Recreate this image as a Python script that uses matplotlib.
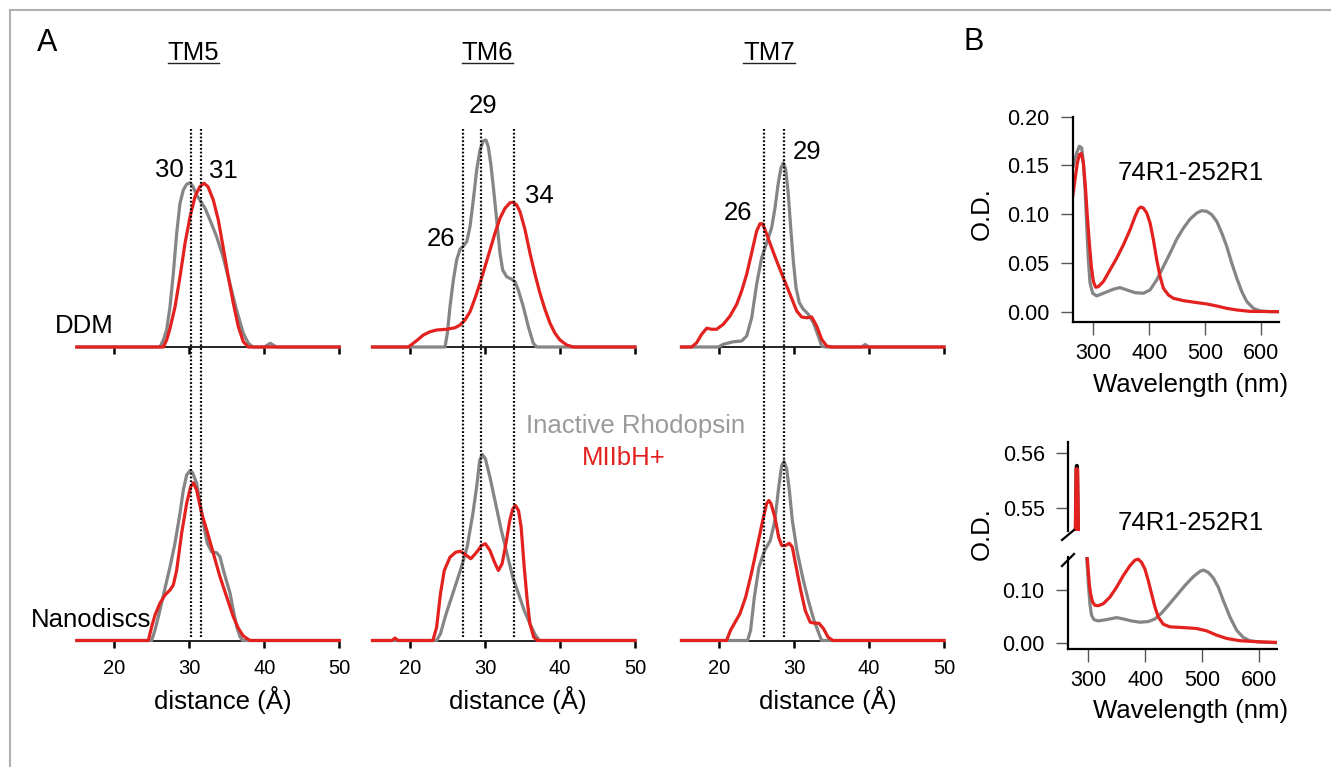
import matplotlib
matplotlib.use("Agg")
import matplotlib.pyplot as plt
from matplotlib.lines import Line2D
from matplotlib.transforms import blended_transform_factory

plt.rcParams['font.family'] = ['Liberation Sans', 'DejaVu Sans']

# ---------------- data: Panel A (distance distributions) ----------------
ticks_A = [20, 30, 40, 50]
titles_A = ["TM5", "TM6", "TM7"]

tm5_ddm_gray_x = [15, 26.09, 26.54, 26.98, 27.43, 27.87, 28.32, 28.76, 29.2, 29.65, 30.1, 30.5, 30.98, 31.4, 32.1,
                  32.76, 33.65, 34.5, 35.4, 36.3, 37.2, 37.87, 38.5, 40.0, 40.8, 41.6, 50]
tm5_ddm_gray_y = [0, 0, 0.028, 0.068, 0.161, 0.295, 0.455, 0.575, 0.628, 0.651, 0.657, 0.641, 0.608, 0.588, 0.555,
                  0.508, 0.441, 0.361, 0.255, 0.148, 0.055, 0.015, 0, 0, 0.015, 0, 0]
tm5_ddm_red_x = [15, 26.54, 26.98, 27.43, 28.1, 28.76, 29.43, 30.1, 30.76, 31.4, 31.96, 32.5, 33.2, 33.87, 34.5,
                 35.2, 35.87, 36.54, 37.2, 37.87, 50]
tm5_ddm_red_y = [0, 0, 0.028, 0.075, 0.161, 0.281, 0.415, 0.521, 0.601, 0.641, 0.655, 0.641, 0.588, 0.508, 0.401,
                 0.281, 0.175, 0.081, 0.021, 0, 0]

tm5_nano_gray_x = [15, 24.98, 25.43, 26.09, 26.76, 27.43, 28.09, 28.76, 29.2, 29.65, 30.09, 30.45, 30.98, 31.43,
                   31.96, 32.4, 32.98, 33.65, 34.09, 34.54, 34.98, 35.43, 35.87, 36.32, 36.76, 37.1, 50]
tm5_nano_gray_y = [0, 0, 0.042, 0.122, 0.209, 0.295, 0.389, 0.509, 0.602, 0.662, 0.679, 0.671, 0.629, 0.549,
                   0.455, 0.389, 0.355, 0.351, 0.335, 0.282, 0.235, 0.19, 0.12, 0.055, 0.015, 0, 0]
tm5_nano_red_x = [15, 24.54, 24.98, 25.43, 26.09, 26.76, 27.43, 27.87, 28.32, 28.98, 29.65, 30.18, 30.54, 30.98,
                  31.65, 32.32, 33.2, 34.09, 34.98, 35.87, 36.54, 37.2, 38.09, 50]
tm5_nano_red_y = [0, 0, 0.055, 0.102, 0.149, 0.182, 0.202, 0.222, 0.282, 0.429, 0.549, 0.615, 0.631, 0.602,
                  0.509, 0.442, 0.349, 0.255, 0.175, 0.095, 0.049, 0.018, 0, 0]

tm6_ddm_gray_x = [15, 24.67, 24.98, 25.33, 25.78, 26.22, 26.67, 27.11, 27.56, 28.0, 28.44, 28.89, 29.33, 29.78,
                  30.13, 30.44, 30.76, 31.11, 31.56, 32.0, 32.36, 32.89, 33.56, 34.0, 34.44, 35.11, 35.78, 36.44,
                  36.89, 50]
tm6_ddm_gray_y = [0, 0, 0.055, 0.161, 0.268, 0.348, 0.391, 0.404, 0.421, 0.481, 0.588, 0.708, 0.788, 0.825,
                  0.828, 0.801, 0.735, 0.641, 0.508, 0.375, 0.308, 0.281, 0.271, 0.261, 0.228, 0.161, 0.081, 0.015,
                  0, 0]
tm6_ddm_red_x = [15, 19.78, 20.44, 21.11, 21.78, 22.67, 23.56, 24.89, 26.0, 26.67, 27.33, 28.0, 28.67, 29.33,
                 30.0, 30.67, 31.33, 32.0, 32.67, 33.33, 33.78, 34.22, 34.67, 35.33, 36.0, 36.67, 37.33, 38.0,
                 38.67, 39.33, 40.0, 40.89, 41.78, 50]
tm6_ddm_red_y = [0, 0, 0.015, 0.031, 0.048, 0.061, 0.068, 0.071, 0.077, 0.088, 0.108, 0.141, 0.195, 0.255,
                 0.321, 0.388, 0.455, 0.515, 0.555, 0.577, 0.579, 0.568, 0.541, 0.47, 0.375, 0.29, 0.215, 0.15,
                 0.095, 0.055, 0.028, 0.008, 0, 0]

tm6_nano_gray_x = [15, 23.55, 24.06, 24.82, 25.84, 26.85, 27.61, 28.38, 28.88, 29.29, 29.64, 30.05, 30.66, 31.42,
                   32.18, 32.94, 33.7, 34.47, 35.23, 35.99, 36.75, 37.26, 50]
tm6_nano_gray_y = [0, 0, 0.027, 0.107, 0.2, 0.293, 0.373, 0.507, 0.613, 0.72, 0.744, 0.727, 0.653, 0.547,
                   0.44, 0.347, 0.253, 0.187, 0.12, 0.067, 0.02, 0, 0]
tm6_nano_red_x = [15, 17.6, 18.0, 18.4, 23.05, 23.55, 24.06, 24.57, 25.33, 26.09, 26.7, 27.36, 28.12, 28.88, 29.54,
                  30.05, 30.66, 31.27, 31.78, 32.28, 32.79, 33.3, 33.71, 34.06, 34.47, 34.82, 35.23, 35.63, 35.99,
                  36.5, 37.0, 50]
tm6_nano_red_y = [0, 0, 0.01, 0, 0, 0.053, 0.187, 0.28, 0.333, 0.353, 0.357, 0.344, 0.327, 0.353, 0.38,
                  0.387, 0.36, 0.313, 0.28, 0.307, 0.387, 0.48, 0.527, 0.54, 0.52, 0.453, 0.293, 0.16, 0.067,
                  0.013, 0, 0]

tm7_ddm_gray_x = [15, 19.91, 20.58, 21.91, 23.02, 23.69, 24.36, 25.02, 25.69, 26.36, 27.02, 27.47, 27.91, 28.27,
                  28.58, 28.89, 29.24, 29.56, 29.91, 30.27, 30.71, 31.24, 31.91, 32.58, 33.24, 33.69, 34.13,
                  39.0, 39.5, 40.0, 50]
tm7_ddm_gray_y = [0, 0, 0.011, 0.021, 0.024, 0.044, 0.117, 0.251, 0.357, 0.417, 0.477, 0.557, 0.657, 0.717,
                  0.737, 0.711, 0.611, 0.477, 0.344, 0.237, 0.177, 0.151, 0.131, 0.097, 0.044, 0.004, 0,
                  0, 0.01, 0, 0]
tm7_ddm_red_x = [15, 16.36, 17.02, 17.69, 18.36, 19.02, 19.69, 20.58, 21.47, 22.36, 23.02, 23.69, 24.36, 25.02,
                 25.47, 25.82, 26.36, 27.02, 27.69, 28.58, 29.47, 30.36, 31.02, 31.69, 32.36, 33.02, 33.69,
                 34.36, 35.02, 50]
tm7_ddm_red_y = [0, 0, 0.017, 0.051, 0.075, 0.071, 0.071, 0.091, 0.124, 0.171, 0.224, 0.291, 0.377, 0.464,
                 0.493, 0.493, 0.451, 0.397, 0.344, 0.277, 0.211, 0.144, 0.120, 0.117, 0.120, 0.084, 0.031,
                 0.004, 0, 0]

tm7_nano_gray_x = [15, 23.8, 24.21, 24.71, 25.32, 26.08, 26.84, 27.45, 27.96, 28.36, 28.67, 29.02, 29.38, 29.78,
                   30.39, 31.15, 31.91, 32.67, 33.33, 33.68, 50]
tm7_nano_gray_y = [0, 0, 0.04, 0.173, 0.293, 0.36, 0.4, 0.48, 0.613, 0.7, 0.717, 0.687, 0.6, 0.48,
                   0.36, 0.253, 0.16, 0.08, 0.027, 0, 0]
tm7_nano_red_x = [15, 21.01, 21.52, 22.03, 22.79, 23.55, 24.31, 25.07, 25.83, 26.34, 26.64, 26.94, 27.45, 27.96,
                  28.36, 28.87, 29.38, 29.78, 30.29, 30.9, 31.5, 32.16, 32.82, 33.33, 33.94, 34.55, 35.2, 50]
tm7_nano_red_y = [0, 0, 0.04, 0.067, 0.107, 0.173, 0.267, 0.373, 0.48, 0.547, 0.56, 0.547, 0.493, 0.413,
                  0.38, 0.38, 0.389, 0.373, 0.293, 0.2, 0.12, 0.073, 0.069, 0.069, 0.047, 0.013, 0, 0]

# dotted reference lines (Å) per TM column
tm5_refs = [30.2, 31.6]
tm6_refs = [27.0, 29.4, 33.8]
tm7_refs = [26.0, 28.6]

# peak labels
tm5_peak_labels = ["30", "31"]
tm6_peak_labels = ["29", "26", "34"]
tm7_peak_labels = ["29", "26"]

# ---------------- data: Panel B (absorbance spectra) ----------------
b_top_gray_nm = [264.2, 270.1, 274.9, 279.1, 282.1, 285.1, 288.1, 291.0, 294.0, 298.8, 306.0, 317.9, 335.8, 347.8,
                 359.7, 374.7, 389.6, 401.6, 413.5, 425.4, 437.4, 449.3, 461.3, 473.2, 485.2, 494.1, 503.1, 512.1,
                 521.0, 530.0, 538.9, 547.9, 556.9, 565.8, 574.8, 586.7, 598.7, 616.6, 631.5]
b_top_gray_od = [0.1495, 0.1629, 0.1697, 0.1680, 0.1526, 0.1255, 0.0878, 0.0535, 0.0295, 0.0189, 0.0161, 0.0189,
                 0.023, 0.0247, 0.0223, 0.0195, 0.0189, 0.0223, 0.0326, 0.0463, 0.06, 0.0744, 0.0857, 0.095, 0.1012,
                 0.1036, 0.1029, 0.0995, 0.0926, 0.0806, 0.0669, 0.0497, 0.0343, 0.0206, 0.0103, 0.0034, 0.0007,
                 0, 0]
b_top_red_nm = [263.0, 267.1, 271.3, 274.9, 278.5, 282.1, 285.7, 289.2, 292.8, 296.4, 300.0, 304.2, 309.0, 317.9,
                329.9, 341.8, 353.8, 365.7, 374.7, 380.6, 384.8, 389.6, 395.6, 401.6, 407.5, 413.5, 419.5, 425.4,
                434.4, 443.4, 461.3, 485.2, 503.1, 521.0, 538.9, 556.9, 580.8, 631.5]
b_top_red_od = [0.1183, 0.1355, 0.1523, 0.1612, 0.1622, 0.1526, 0.1286, 0.0978, 0.0703, 0.0463, 0.0309, 0.0250,
                0.0257, 0.0309, 0.0429, 0.0549, 0.0686, 0.0840, 0.0977, 0.1053, 0.1073, 0.1063, 0.1012, 0.0909,
                0.0738, 0.0532, 0.0360, 0.0240, 0.0171, 0.0137, 0.0113, 0.0093, 0.0079, 0.0058, 0.0034, 0.0017,
                0.0003, 0]

b_bot_gray_nm = [297.1, 298.8, 300.6, 302.9, 305.8, 309.9, 317.5, 332.2, 349.7, 361.4, 376.0, 390.6, 405.3, 417.0,
                 428.7, 440.4, 455.0, 469.6, 484.2, 495.9, 501.8, 510.5, 519.3, 528.1, 536.8, 548.5, 560.2, 571.9,
                 583.6, 601.2, 630.4]
b_bot_gray_od = [0.1595, 0.135, 0.1043, 0.0736, 0.0521, 0.0442, 0.0417, 0.0442, 0.0479, 0.0454, 0.0417, 0.0393,
                 0.0405, 0.0454, 0.0564, 0.0706, 0.0890, 0.1074, 0.1239, 0.1337, 0.1362, 0.1319, 0.1215, 0.1043,
                 0.0798, 0.0491, 0.0245, 0.0110, 0.0049, 0.0025, 0.0012]
b_bot_red_nm = [298.2, 300.0, 301.8, 304.1, 307.6, 311.7, 317.5, 326.3, 338.0, 349.7, 361.4, 373.1, 381.9, 387.7,
                393.6, 399.4, 405.3, 411.1, 417.0, 422.8, 431.6, 443.3, 466.7, 490.1, 507.6, 525.1, 542.7, 566.1,
                595.3, 630.4]
b_bot_red_od = [0.1595, 0.135, 0.1104, 0.092, 0.0767, 0.0706, 0.07, 0.0736, 0.0859, 0.1043, 0.1258, 0.1442,
                0.1546, 0.1564, 0.1503, 0.1380, 0.1166, 0.0920, 0.0675, 0.0491, 0.0356, 0.0307, 0.0294, 0.0276,
                0.0233, 0.0153, 0.0092, 0.0049, 0.0031, 0.0018]

b_spike_black_nm = [277, 279, 280, 281, 283]
b_spike_black_od = [0.54, 0.5577, 0.5578, 0.5577, 0.54]
b_spike_red_nm = [276.5, 278.7, 280, 281.3, 283.5]
b_spike_red_od = [0.54, 0.5571, 0.5572, 0.5571, 0.54]

b_top_yticks = [0.00, 0.05, 0.10, 0.15, 0.20]
b_bot_yticks_low = [0.00, 0.10]
b_bot_yticks_high = [0.55, 0.56]
b_xticks = [300, 400, 500, 600]

# ---------------- figure ----------------
W, H = 1331, 767
fig = plt.figure(figsize=(W / 100, H / 100), dpi=100)
fig.patch.set_facecolor('white')

GRAY = '#858585'
RED = '#e3211f'
LW = 2.3


def fx(x):
    return x / W


def fy(y):
    return 1 - y / H


def add_ax(left, top, right, bottom):
    return fig.add_axes([fx(left), fy(bottom), (right - left) / W, (bottom - top) / H])


def ftext(x, y, s, size=18.5, ha='center', va='baseline', **kw):
    fig.text(fx(x), fy(y), s, fontsize=size, ha=ha, va=va, **kw)


# frame
fig.add_artist(Line2D([fx(10), fx(10)], [fy(10), 0], color='#b0b0b0', lw=1.5))
fig.add_artist(Line2D([fx(10), 1], [fy(10), fy(10)], color='#b0b0b0', lw=1.5))

# Panel A axes geometry (pixels)
col_left = [76.8, 372.5, 681.5]
col_w = 262.5
row_base = [347.0, 640.5]
row_h = 250.0

curves = [
    [(tm5_ddm_gray_x, tm5_ddm_gray_y, tm5_ddm_red_x, tm5_ddm_red_y),
     (tm5_nano_gray_x, tm5_nano_gray_y, tm5_nano_red_x, tm5_nano_red_y)],
    [(tm6_ddm_gray_x, tm6_ddm_gray_y, tm6_ddm_red_x, tm6_ddm_red_y),
     (tm6_nano_gray_x, tm6_nano_gray_y, tm6_nano_red_x, tm6_nano_red_y)],
    [(tm7_ddm_gray_x, tm7_ddm_gray_y, tm7_ddm_red_x, tm7_ddm_red_y),
     (tm7_nano_gray_x, tm7_nano_gray_y, tm7_nano_red_x, tm7_nano_red_y)],
]
refs = [tm5_refs, tm6_refs, tm7_refs]

top_axes = []
for c in range(3):
    for r in range(2):
        ax = add_ax(col_left[c], row_base[r] - row_h, col_left[c] + col_w, row_base[r])
        gx, gy, rx, ry = curves[c][r]
        ax.plot(gx, gy, color=GRAY, lw=LW, solid_joinstyle='round', zorder=3, clip_on=False)
        ax.plot(rx, ry, color=RED, lw=LW, solid_joinstyle='round', zorder=4, clip_on=False)
        ax.set_xlim(15, 50)
        ax.set_ylim(0, 1)
        for s in ['left', 'right', 'top']:
            ax.spines[s].set_visible(False)
        ax.spines['bottom'].set_color('black')
        ax.spines['bottom'].set_linewidth(1.2)
        ax.spines['bottom'].set_zorder(2)
        ax.set_yticks([])
        ax.set_xticks(ticks_A)
        ax.tick_params(axis='x', direction='out', length=5, width=1.8, color='black',
                       labelsize=14.5, pad=8)
        if r == 0:
            ax.tick_params(labelbottom=False)
            top_axes.append(ax)
        ax.patch.set_alpha(0)

# dotted reference lines spanning both rows
for c in range(3):
    ax = top_axes[c]
    tr = blended_transform_factory(ax.transData, fig.transFigure)
    for xv in refs[c]:
        fig.add_artist(Line2D([xv, xv], [fy(129), fy(639)], transform=tr, color='black',
                              lw=1.6, dashes=(0.8, 0.9), zorder=5))

# titles with underline
title_pos = [(193.5, 167.7, 219.3), (487.5, 461.7, 513.3), (769.0, 743.3, 795.0)]
for t, (cx, ul, ur) in zip(titles_A, title_pos):
    ftext(cx, 60, t)
    fig.add_artist(Line2D([fx(ul), fx(ur)], [fy(62.5), fy(62.5)], color='#222222', lw=1.0))

# panel letters
ftext(46.7, 51, "A", size=22)
ftext(974, 50, "B", size=22)

# peak labels
ftext(169, 176.7, tm5_peak_labels[0])
ftext(223, 178.3, tm5_peak_labels[1])
ftext(483.3, 113.3, tm6_peak_labels[0])
ftext(440.8, 246, tm6_peak_labels[1])
ftext(539.7, 203.3, tm6_peak_labels[2])
ftext(807.5, 159.3, tm7_peak_labels[0])
ftext(738, 220, tm7_peak_labels[1])

# row labels
ftext(84.2, 333.3, "DDM")
ftext(90.8, 626.7, "Nanodiscs")

# legend texts
ftext(636, 432.7, "Inactive Rhodopsin", color='#9a9a9a')
ftext(624, 465, "MIIbH+", color=RED)

# x labels A
for cx in [223.3, 518.3, 828.3]:
    ftext(cx, 708.5, "distance (Å)")


# ---------------- Panel B ----------------
def style_b(ax):
    for s in ['right', 'top']:
        ax.spines[s].set_visible(False)
    for s in ['left', 'bottom']:
        ax.spines[s].set_linewidth(1.6)
        ax.spines[s].set_color('black')
    ax.tick_params(direction='out', length=9, width=1.0, color='#555555', labelsize=15.5, pad=6)
    ax.tick_params(axis='y', pad=8)
    ax.patch.set_alpha(0)


# top spectrum
axb1 = add_ax(1072.7, 116.7, 1279.3, 321.7)
axb1.plot(b_top_gray_nm, b_top_gray_od, color=GRAY, lw=LW, solid_joinstyle='round')
axb1.plot(b_top_red_nm, b_top_red_od, color=RED, lw=LW, solid_joinstyle='round')
axb1.set_xlim(263, 633)
axb1.set_ylim(-0.0103, 0.20)
axb1.set_xticks(b_xticks)
axb1.set_yticks(b_top_yticks)
axb1.set_yticklabels([f"{v:.2f}" for v in b_top_yticks])
style_b(axb1)
ftext(1190.8, 180, "74R1-252R1")
ftext(1190.8, 391.7, "Wavelength (nm)")
ftext(981.7, 213.3, "O.D.", va='center', rotation=90)

# bottom spectrum: lower part
axb2 = add_ax(1068.3, 556.7, 1277.3, 649.3)
axb2.plot(b_bot_gray_nm, b_bot_gray_od, color=GRAY, lw=LW, solid_joinstyle='round')
axb2.plot(b_bot_red_nm, b_bot_red_od, color=RED, lw=LW, solid_joinstyle='round')
axb2.set_xlim(265, 631.6)
axb2.set_ylim(-0.011, 0.161)
axb2.set_xticks(b_xticks)
axb2.set_yticks(b_bot_yticks_low)
axb2.set_yticklabels([f"{v:.2f}" for v in b_bot_yticks_low])
style_b(axb2)

# bottom spectrum: upper (broken) part
axb3 = add_ax(1068.3, 441.7, 1277.3, 531.0)
axb3.plot(b_spike_black_nm, b_spike_black_od, color='black', lw=LW, solid_joinstyle='round')
axb3.plot(b_spike_red_nm, b_spike_red_od, color=RED, lw=LW, solid_joinstyle='round')
axb3.set_xlim(265, 631.6)
axb3.set_ylim(0.5459, 0.5621)
axb3.set_yticks(b_bot_yticks_high)
axb3.set_yticklabels([f"{v:.2f}" for v in b_bot_yticks_high])
style_b(axb3)
axb3.spines['bottom'].set_visible(False)
axb3.tick_params(axis='x', bottom=False, labelbottom=False)

# axis-break marks
for (x0, y0, x1, y1) in [(1062, 540, 1074, 530), (1062, 566, 1074, 554)]:
    fig.add_artist(Line2D([fx(x0), fx(x1)], [fy(y0), fy(y1)], color='black', lw=1.6))

ftext(1190.8, 530, "74R1-252R1")
ftext(1190.8, 718.3, "Wavelength (nm)")
ftext(981.7, 534, "O.D.", va='center', rotation=90)

fig.savefig("out.png", dpi=100)
